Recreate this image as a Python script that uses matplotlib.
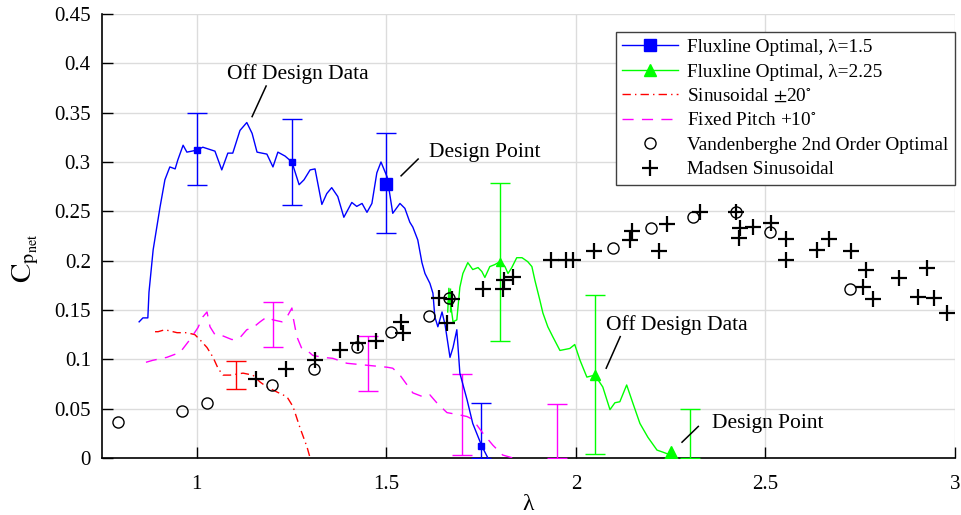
"""
Net power coefficient vs tip speed ratio for the Fluxline optimal pitch
schedules, compared with sinusoidal / fixed pitch runs and reference data.
"""

import matplotlib
matplotlib.use('Agg')
import matplotlib.pyplot as plt
from matplotlib.lines import Line2D
import numpy as np


plt.rcParams['font.family'] = ['Liberation Serif', 'DejaVu Serif']
plt.rcParams['mathtext.fontset'] = 'stix'

BLUE = '#0000ff'
GREEN = '#00ff00'
RED = '#ff0000'
MAGENTA = '#ff00ff'

# Fluxline optimal, lambda = 1.5
flux15_tsr = [0.848, 0.858, 0.871, 0.874, 0.885, 0.903, 0.916, 0.929, 0.943, 0.950,
              0.964, 0.974, 1.000, 1.016, 1.048, 1.066, 1.082, 1.095, 1.114, 1.132,
              1.146, 1.159, 1.172, 1.185, 1.201, 1.214, 1.233, 1.251, 1.270, 1.283,
              1.299, 1.312, 1.330, 1.343, 1.356, 1.372, 1.388, 1.409, 1.422, 1.436,
              1.449, 1.462, 1.475, 1.486, 1.502, 1.517, 1.536, 1.549, 1.562, 1.570,
              1.583, 1.594, 1.602, 1.615, 1.623, 1.628, 1.636, 1.647, 1.655, 1.668,
              1.676, 1.686, 1.694, 1.713, 1.728, 1.752, 1.768]
flux15_cp = [0.138, 0.142, 0.142, 0.168, 0.211, 0.254, 0.282, 0.295, 0.293, 0.302,
             0.317, 0.310, 0.312, 0.315, 0.311, 0.292, 0.309, 0.309, 0.332, 0.340,
             0.329, 0.310, 0.309, 0.308, 0.295, 0.310, 0.306, 0.300, 0.277, 0.282,
             0.292, 0.293, 0.257, 0.268, 0.274, 0.265, 0.244, 0.259, 0.255, 0.258,
             0.249, 0.258, 0.289, 0.300, 0.285, 0.248, 0.258, 0.253, 0.239, 0.234,
             0.221, 0.198, 0.187, 0.177, 0.167, 0.143, 0.133, 0.148, 0.135, 0.102,
             0.112, 0.130, 0.086, 0.059, 0.035, 0.012, 0.000]
flux15_pts_tsr = [1.0, 1.25, 1.5, 1.75]
flux15_pts_cp = [0.312, 0.300, 0.278, 0.012]
flux15_pts_size = [5, 5, 9, 5]
flux15_err_lo = [0.277, 0.256, 0.228, 0.000]
flux15_err_hi = [0.350, 0.344, 0.329, 0.056]

# Fluxline optimal, lambda = 2.25
flux225_tsr = [1.662, 1.665, 1.670, 1.676, 1.686, 1.694, 1.702, 1.715, 1.728, 1.742,
               1.752, 1.760, 1.773, 1.786, 1.800, 1.813, 1.821, 1.831, 1.844, 1.858,
               1.873, 1.884, 1.892, 1.905, 1.913, 1.926, 1.939, 1.958, 1.984, 1.997,
               2.011, 2.029, 2.050, 2.071, 2.090, 2.103, 2.116, 2.134, 2.150, 2.169,
               2.190, 2.214, 2.229, 2.250]
flux225_cp = [0.148, 0.172, 0.155, 0.138, 0.140, 0.173, 0.187, 0.198, 0.191, 0.193,
              0.189, 0.183, 0.194, 0.196, 0.199, 0.194, 0.187, 0.193, 0.203, 0.203,
              0.199, 0.194, 0.180, 0.160, 0.147, 0.133, 0.123, 0.109, 0.111, 0.115,
              0.099, 0.082, 0.084, 0.072, 0.049, 0.056, 0.057, 0.074, 0.056, 0.035,
              0.021, 0.008, 0.006, 0.003]
flux225_pts_tsr = [1.667, 1.8, 2.05, 2.25]
flux225_pts_cp = [0.160, 0.199, 0.084, 0.004]
flux225_pts_size = [5, 6, 7, 11]
flux225_err_tsr = [1.8, 2.05, 2.30]
flux225_err_lo = [0.119, 0.004, 0.000]
flux225_err_hi = [0.279, 0.165, 0.050]
# short uncapped bar on the first point
flux225_first_lo = 0.148
flux225_first_hi = 0.172

# Sinusoidal +/-20 deg
sin20_tsr = [0.890, 0.898, 0.916, 0.948, 0.974, 0.995, 1.008, 1.027, 1.043, 1.056,
             1.069, 1.088, 1.106, 1.122, 1.148, 1.167, 1.185, 1.211, 1.238, 1.254,
             1.272, 1.291, 1.299]
sin20_cp = [0.128, 0.128, 0.130, 0.127, 0.127, 0.125, 0.120, 0.112, 0.102, 0.091,
            0.084, 0.084, 0.085, 0.086, 0.084, 0.077, 0.072, 0.067, 0.062, 0.052,
            0.031, 0.011, 0.000]
sin20_err_tsr = [1.104]
sin20_err_lo = [0.070]
sin20_err_hi = [0.098]

# Fixed pitch +10 deg
fixed10_tsr = [0.866, 0.884, 0.921, 0.956, 0.982, 1.003, 1.016, 1.027, 1.035, 1.048,
               1.061, 1.080, 1.093, 1.114, 1.132, 1.148, 1.167, 1.185, 1.201, 1.225,
               1.238, 1.251, 1.254, 1.264, 1.277, 1.291, 1.306, 1.333, 1.359, 1.396,
               1.449, 1.502, 1.517, 1.536, 1.570, 1.597, 1.615, 1.633, 1.660, 1.689,
               1.713, 1.728, 1.755, 1.781, 1.807, 1.834]
fixed10_cp = [0.097, 0.099, 0.102, 0.107, 0.120, 0.132, 0.143, 0.148, 0.133, 0.125,
              0.125, 0.122, 0.120, 0.122, 0.130, 0.132, 0.138, 0.143, 0.140, 0.138,
              0.143, 0.152, 0.143, 0.123, 0.111, 0.109, 0.104, 0.102, 0.101, 0.096,
              0.094, 0.092, 0.091, 0.084, 0.066, 0.062, 0.064, 0.056, 0.046, 0.044,
              0.042, 0.039, 0.025, 0.013, 0.003, 0.000]
fixed10_err_tsr = [1.20, 1.452, 1.70, 1.95]
fixed10_err_lo = [0.113, 0.068, 0.003, 0.000]
fixed10_err_hi = [0.158, 0.124, 0.085, 0.055]

# Vandenberghe 2nd order optimal
vdb_tsr = [0.792, 0.961, 1.027, 1.199, 1.309, 1.423, 1.513, 1.613, 1.666, 2.098,
           2.198, 2.309, 2.423, 2.513, 2.724]
vdb_cp = [0.036, 0.048, 0.056, 0.074, 0.090, 0.112, 0.128, 0.144, 0.162, 0.213,
          0.233, 0.244, 0.249, 0.229, 0.171]

# Madsen sinusoidal
madsen_tsr = [1.156, 1.235, 1.312, 1.378, 1.425, 1.473, 1.539, 1.544, 1.639, 1.673,
              1.660, 1.755, 1.808, 1.811, 1.835, 1.935, 1.974, 1.993, 2.048, 2.148,
              2.143, 2.220, 2.241, 2.328, 2.423, 2.433, 2.431, 2.468, 2.515, 2.555,
              2.555, 2.637, 2.668, 2.726, 2.766, 2.758, 2.784, 2.853, 2.927, 2.903,
              2.945, 2.980]
madsen_cp = [0.080, 0.090, 0.099, 0.109, 0.117, 0.119, 0.138, 0.127, 0.162, 0.161,
             0.137, 0.171, 0.171, 0.180, 0.183, 0.201, 0.201, 0.201, 0.210, 0.230,
             0.221, 0.210, 0.237, 0.249, 0.249, 0.233, 0.223, 0.234, 0.238, 0.222,
             0.201, 0.211, 0.222, 0.210, 0.191, 0.173, 0.161, 0.182, 0.193, 0.163,
             0.162, 0.147]


def draw_errorbars(ax, x, lo, hi, color, capsize=7):
    lo = np.array(lo)
    hi = np.array(hi)
    ax.errorbar(x, (lo + hi) / 2, yerr=(hi - lo) / 2, fmt='none', ecolor=color,
                elinewidth=1.0, capsize=capsize, capthick=1.0, zorder=3)


def main():
    fig = plt.figure(figsize=(9.62, 5.15), dpi=100)
    ax = fig.add_axes([0.106, 0.1107, 0.8867, 0.8621])

    ax.plot(flux15_tsr, flux15_cp, color=BLUE, lw=1.0, zorder=4)
    for x, y, s in zip(flux15_pts_tsr, flux15_pts_cp, flux15_pts_size):
        ax.plot(x, y, 's', color=BLUE, ms=s, mec=BLUE, zorder=5)
    draw_errorbars(ax, flux15_pts_tsr, flux15_err_lo, flux15_err_hi, BLUE)

    ax.plot(flux225_tsr, flux225_cp, color=GREEN, lw=1.0, zorder=4)
    for x, y, s in zip(flux225_pts_tsr, flux225_pts_cp, flux225_pts_size):
        ax.plot(x, y, '^', color=GREEN, ms=s, mec=GREEN, zorder=5)
    draw_errorbars(ax, flux225_err_tsr, flux225_err_lo, flux225_err_hi, GREEN)
    draw_errorbars(ax, [flux225_pts_tsr[0]], [flux225_first_lo], [flux225_first_hi],
                   GREEN, capsize=0)

    ax.plot(sin20_tsr, sin20_cp, color=RED, lw=1.0, ls=(0, (6, 3, 1, 3)), zorder=4)
    draw_errorbars(ax, sin20_err_tsr, sin20_err_lo, sin20_err_hi, RED)

    ax.plot(fixed10_tsr, fixed10_cp, color=MAGENTA, lw=1.0, ls=(0, (8, 6)), zorder=4)
    draw_errorbars(ax, fixed10_err_tsr, fixed10_err_lo, fixed10_err_hi, MAGENTA)

    ax.plot(vdb_tsr, vdb_cp, 'o', mfc='none', mec='black', ms=8, mew=1.0, zorder=6)
    ax.plot(madsen_tsr, madsen_cp, '+', color='black', ms=11, mew=1.6, zorder=6)

    # annotations
    ann_kw = dict(fontsize=15.5, color='black')
    line_kw = dict(color='black', lw=1.1, zorder=7)
    ax.plot([1.183, 1.146], [0.377, 0.346], **line_kw)
    ax.text(1.267, 0.389, 'Off Design Data', ha='center', va='center', **ann_kw)
    ax.plot([1.584, 1.539], [0.303, 0.286], **line_kw)
    ax.text(1.612, 0.310, 'Design Point', ha='left', va='center', **ann_kw)
    ax.plot([2.117, 2.080], [0.123, 0.091], **line_kw)
    ax.text(2.080, 0.135, 'Off Design Data', ha='left', va='center', **ann_kw)
    ax.plot([2.323, 2.280], [0.032, 0.016], **line_kw)
    ax.text(2.360, 0.035, 'Design Point', ha='left', va='center', **ann_kw)

    ax.set_xlim(0.75, 3.0)
    ax.set_ylim(0, 0.45)
    ax.set_xticks([1, 1.5, 2, 2.5, 3])
    ax.set_xticklabels(['1', '1.5', '2', '2.5', '3'])
    yt = np.arange(0, 0.451, 0.05)
    ax.set_yticks(yt)
    ax.set_yticklabels(['0', '0.05', '0.1', '0.15', '0.2', '0.25', '0.3', '0.35',
                        '0.4', '0.45'])
    ax.tick_params(direction='in', length=8, width=1.0, labelsize=15,
                   top=False, right=False)
    ax.tick_params(axis='x', pad=12)
    ax.tick_params(axis='y', pad=8)
    ax.grid(True, color='#dcdcdc', lw=1.0)
    ax.set_axisbelow(True)
    for side in ['top', 'right']:
        ax.spines[side].set_visible(False)
    for side in ['left', 'bottom']:
        ax.spines[side].set_linewidth(1.2)

    ax.set_xlabel('λ', fontsize=17, va='center')
    ax.xaxis.set_label_coords(0.5, -0.105)
    ax.set_ylabel(r'$\mathrm{C}_{\mathrm{p}_{\mathrm{net}}}$', fontsize=21)
    ax.yaxis.set_label_coords(-0.071, 0.45)

    handles = [
        Line2D([], [], color=BLUE, lw=1.0, marker='s', ms=8),
        Line2D([], [], color=GREEN, lw=1.0, marker='^', ms=9),
        Line2D([], [], color=RED, lw=1.0, ls=(0, (6, 3, 1, 3))),
        Line2D([], [], color=MAGENTA, lw=1.0, ls=(0, (8, 6))),
        Line2D([], [], ls='none', marker='o', mfc='none', mec='black', ms=8, mew=1.0),
        Line2D([], [], ls='none', marker='+', color='black', ms=11, mew=1.6),
    ]
    labels = [
        'Fluxline Optimal, λ=1.5',
        'Fluxline Optimal, λ=2.25',
        r'Sinusoidal $\pm$20$^{\circ}$',
        r'Fixed Pitch +10$^{\circ}$',
        'Vandenberghe 2nd Order Optimal',
        'Madsen Sinusoidal',
    ]
    leg = ax.legend(handles, labels, loc='upper right', bbox_to_anchor=(1.0, 0.96),
                    fontsize=13.9, frameon=True, fancybox=False, framealpha=1.0,
                    edgecolor='#404040', handlelength=2.9, handletextpad=0.45,
                    borderpad=0.35, labelspacing=0.36, borderaxespad=0.0)
    leg.get_frame().set_linewidth(1.0)

    fig.savefig('out.png', dpi=100)
    plt.close(fig)


if __name__ == '__main__':
    main()
